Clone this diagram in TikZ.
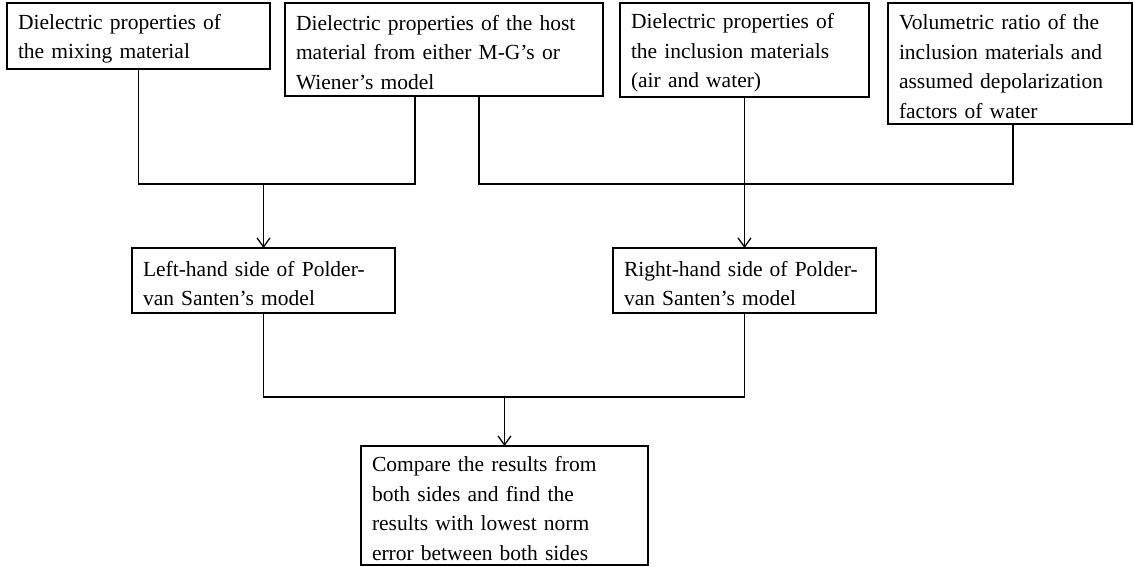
\documentclass[tikz,border=0pt]{standalone}
\usepackage{fontspec}
\setmainfont[WordSpace=1.15]{Liberation Serif}
\usetikzlibrary{arrows.meta}
\begin{document}
\begin{tikzpicture}[x=1pt,y=-1pt,
  box/.style={draw, line width=1.3pt, anchor=north west, align=left,
    inner xsep=11pt, inner ysep=0pt, outer sep=0pt,
    font=\fontsize{21.5}{29.5}\selectfont,
    execute at begin node={\rule{0pt}{21pt}}},
  link/.style={line width=1.3pt},
  arr/.style={link, -{Straight Barb[length=9pt,width=13pt,line width=1.3pt]}}]
\useasboundingbox (0,0) rectangle (1135,566);

% input boxes along the top
\node[box, text width=241pt, minimum height=66pt] (A) at (7,3)
  {Dielectric properties of\\the mixing material};
\node[box, text width=296pt, minimum height=93pt] (B) at (285,3)
  {Dielectric properties of the host\\material from either M-G's or\\Wiener's model};
\node[box, text width=227pt, minimum height=94pt] (C) at (620,3)
  {Dielectric properties of\\the inclusion materials\\(air and water)};
\node[box, text width=222pt, minimum height=121pt] (D) at (888,3)
  {Volumetric ratio of the\\inclusion materials and\\assumed depolarization\\factors of water};

% the two sides of the model
\node[box, text width=241pt, minimum height=65pt] (E) at (132,248)
  {Left-hand side of Polder-\\van Santen's model};
\node[box, text width=241pt, minimum height=65pt] (F) at (613,248)
  {Right-hand side of Polder-\\van Santen's model};

% comparison
\node[box, text width=265pt, minimum height=119pt] (G) at (361,446)
  {Compare the results from\\both sides and find the\\results with lowest norm\\error between both sides};

% connection points and bus lines
\coordinate (hostL) at (415,96);
\coordinate (hostR) at (479,96);
\coordinate (volD) at (1013,124);
\coordinate (busTop) at (0,184);
\coordinate (busBot) at (0,397);

\draw[link] (A.south) |- (busTop -| hostL) -- (hostL);
\draw[link] (hostR) |- (busTop -| volD) -- (volD);
\draw[arr] (busTop -| E.north) -- (E.north);
\draw[arr] (C.south) -- (F.north);
\draw[link] (E.south) |- (busBot -| F.south) -- (F.south);
\draw[arr] (busBot -| G.north) -- (G.north);
\end{tikzpicture}
\end{document}
